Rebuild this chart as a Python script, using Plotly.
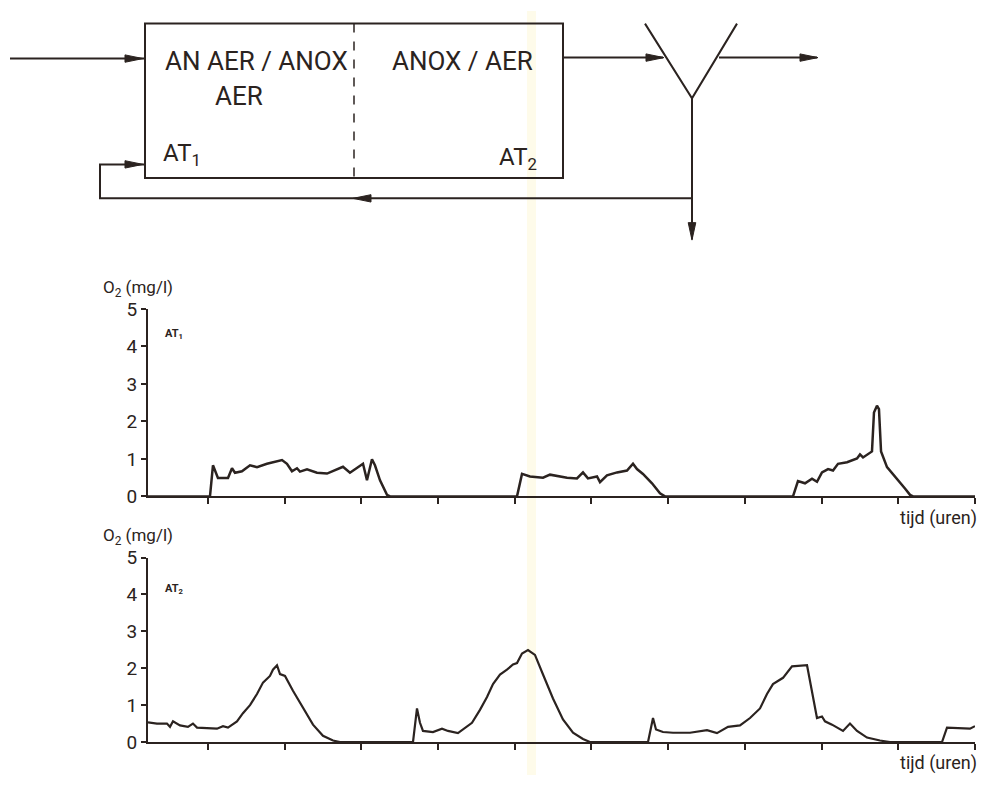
import plotly.graph_objects as go

# ---------------- data (time in tick units, O2 in mg/l) ----------------
tijd_at1 = [0.218, 1.026, 1.065, 1.130, 1.261, 1.313, 1.352, 1.443, 1.548, 1.639, 1.769, 1.900,
            1.965, 2.030, 2.095, 2.160, 2.199, 2.291, 2.421, 2.552, 2.682, 2.760, 2.851, 2.982,
            3.021, 3.073, 3.138, 3.177, 3.243, 3.334, 3.373,
            5.029, 5.094, 5.198, 5.368, 5.459, 5.681, 5.811, 5.889, 5.954, 6.072, 6.111, 6.202,
            6.333, 6.463, 6.541, 6.593, 6.671, 6.789, 6.893, 6.958,
            8.627, 8.692, 8.784, 8.875, 8.940, 9.005, 9.084, 9.149, 9.214, 9.332, 9.462, 9.501,
            9.540, 9.631, 9.657, 9.683, 9.722, 9.748, 9.775, 9.853, 9.983, 10.087, 10.153,
            10.192, 11.0]
o2_at1 = [0, 0, 0.83, 0.49, 0.49, 0.75, 0.63, 0.67, 0.83, 0.78, 0.87, 0.94,
          0.97, 0.87, 0.67, 0.75, 0.66, 0.72, 0.63, 0.61, 0.72, 0.79, 0.63, 0.83,
          0.87, 0.43, 0.99, 0.83, 0.43, 0.04, 0,
          0, 0.60, 0.53, 0.50, 0.58, 0.50, 0.48, 0.64, 0.48, 0.53, 0.38, 0.56,
          0.64, 0.69, 0.87, 0.73, 0.60, 0.35, 0.08, 0,
          0, 0.41, 0.35, 0.47, 0.39, 0.64, 0.73, 0.69, 0.87, 0.91, 1.01, 1.12,
          1.04, 1.16, 1.20, 2.24, 2.42, 2.33, 1.20, 0.78, 0.48, 0.21, 0.04,
          0, 0]

tijd_at2 = [0.218, 0.335, 0.465, 0.505, 0.544, 0.635, 0.739, 0.804, 0.857, 0.987, 1.117, 1.196,
            1.261, 1.378, 1.456, 1.548, 1.639, 1.717, 1.808, 1.847, 1.900, 1.939, 2.004, 2.108,
            2.239, 2.369, 2.499, 2.630, 2.721,
            3.673, 3.725, 3.764, 3.803, 3.933, 4.051, 4.129, 4.259, 4.351, 4.442, 4.546, 4.638,
            4.716, 4.807, 4.898, 4.977, 5.029, 5.094, 5.172, 5.263, 5.368, 5.498, 5.628, 5.759,
            5.889, 5.980,
            6.737, 6.802, 6.841, 6.932, 7.063, 7.284, 7.506, 7.636, 7.780, 7.936, 8.067, 8.197,
            8.288, 8.366, 8.497, 8.614, 8.810, 8.940, 9.005, 9.044, 9.136, 9.279, 9.370, 9.462,
            9.592, 9.761, 9.892,
            10.570, 10.635, 10.765, 10.935, 11.0]
o2_at2 = [0.53, 0.50, 0.50, 0.41, 0.56, 0.45, 0.41, 0.50, 0.39, 0.37, 0.36, 0.43,
          0.39, 0.56, 0.78, 1.00, 1.30, 1.61, 1.79, 1.96, 2.08, 1.84, 1.79, 1.39,
          0.91, 0.47, 0.17, 0.04, 0,
          0, 0.91, 0.52, 0.30, 0.27, 0.36, 0.30, 0.24, 0.39, 0.52, 0.87, 1.22,
          1.57, 1.83, 1.96, 2.10, 2.14, 2.40, 2.49, 2.36, 1.83, 1.18, 0.61, 0.25,
          0.08, 0,
          0, 0.65, 0.34, 0.27, 0.25, 0.25, 0.32, 0.24, 0.41, 0.45, 0.65, 0.91,
          1.30, 1.57, 1.74, 2.05, 2.08, 0.65, 0.69, 0.56, 0.47, 0.30, 0.50, 0.30,
          0.12, 0.04, 0,
          0, 0.39, 0.37, 0.36, 0.43]

x_ticks = [1, 2, 3, 4, 5, 6, 7, 8, 9, 10, 11]
y_ticks = [0, 1, 2, 3, 4, 5]
y_labels = ["0", "1", "2", "3", "4", "5"]
x_range = [0.218, 11.0]

INK = "#2b2320"
FONT = "Roboto"
W, H = 982, 787


def px(x):
    return x / W


def py(y):
    return 1 - y / H


fig = go.Figure()
fig.add_trace(go.Scatter(x=tijd_at1, y=o2_at1, mode="lines", xaxis="x", yaxis="y",
                         line=dict(color=INK, width=2.5), hoverinfo="skip", showlegend=False))
fig.add_trace(go.Scatter(x=tijd_at2, y=o2_at2, mode="lines", xaxis="x2", yaxis="y2",
                         line=dict(color=INK, width=2.2), hoverinfo="skip", showlegend=False))

xax = dict(range=x_range, showline=True, linecolor=INK, linewidth=2, ticks="outside",
           tickvals=x_ticks, ticklen=6, tickwidth=1.5, tickcolor=INK, showticklabels=False,
           showgrid=False, zeroline=False, fixedrange=True)
yax = dict(range=[0, 5], showline=True, linecolor=INK, linewidth=2, ticks="outside",
           tickvals=y_ticks, ticktext=y_labels, ticklen=5, tickwidth=1.5, tickcolor=INK,
           tickfont=dict(family=FONT, size=19, color=INK), showgrid=False, zeroline=False,
           fixedrange=True)

dom_x = [px(148), px(975)]
fig.update_layout(
    width=W, height=H, margin=dict(l=0, r=0, t=0, b=0),
    paper_bgcolor="white", plot_bgcolor="rgba(0,0,0,0)",
    xaxis=dict(xax, domain=dom_x, anchor="y"),
    yaxis=dict(yax, domain=[py(500), py(307)], anchor="x"),
    xaxis2=dict(xax, domain=dom_x, anchor="y2"),
    yaxis2=dict(yax, domain=[py(753), py(563)], anchor="x2"),
)

shapes = []
# faint yellow scan band
shapes.append(dict(type="rect", xref="paper", yref="paper", x0=px(527), x1=px(536), y0=0, y1=1,
                   fillcolor="#fefbea", line=dict(width=0), layer="below"))


def line(path, dash="solid", w=2):
    shapes.append(dict(type="path", xref="paper", yref="paper", path=path,
                       line=dict(color=INK, width=w, dash=dash), layer="above"))


def pth(points, close=False):
    s = "M " + " L ".join(f"{px(x):.5f},{py(y):.5f}" for x, y in points)
    return s + (" Z" if close else "")


def arrow_head(tip_x, tip_y, direction, length=18, half=3.8):
    if direction == "right":
        pts = [(tip_x, tip_y), (tip_x - length, tip_y - half), (tip_x - length, tip_y + half)]
    elif direction == "left":
        pts = [(tip_x, tip_y), (tip_x + length, tip_y - half), (tip_x + length, tip_y + half)]
    else:  # down
        pts = [(tip_x, tip_y), (tip_x - half, tip_y - length), (tip_x + half, tip_y - length)]
    shapes.append(dict(type="path", xref="paper", yref="paper", path=pth(pts, True),
                       fillcolor=INK, line=dict(color=INK, width=1), layer="above"))


# box
line(pth([(145, 13), (563, 13), (563, 172), (145, 172)], close=True))
line(pth([(354, 13), (354, 172)]), dash="dash", w=1.5)
# inflow
line(pth([(10, 49), (145, 49)]))
arrow_head(143, 49, "right")
# recycle
line(pth([(692, 193), (100, 193), (100, 158), (145, 158)]))
arrow_head(143, 158, "right")
arrow_head(353, 193, "left")
# to clarifier
line(pth([(563, 48), (663, 48)]))
arrow_head(664, 48, "right")
# clarifier Y
line(pth([(645, 13), (692, 90), (737, 13)]))
line(pth([(719, 48), (817, 48)]))
arrow_head(818, 48, "right")
line(pth([(692, 90), (692, 235)]))
arrow_head(692, 236, "down")

fig.update_layout(shapes=shapes)

ann = []


def text(x, y, s, size, anchor="left"):
    ann.append(dict(x=px(x), y=py(y), xref="paper", yref="paper", text=s, showarrow=False,
                    xanchor=anchor, yanchor="middle", font=dict(family=FONT, size=size, color=INK)))


text(163, 52, "AN AER / ANOX", 26)
text(213, 88, "AER", 26)
text(161, 148, "AT<sub>1</sub>", 24)
text(390, 52, "ANOX / AER", 26)
text(497, 152, "AT<sub>2</sub>", 24)

text(101, 286, "O<sub>2</sub> (mg/l)", 17)
text(101, 541, "O<sub>2</sub> (mg/l)", 17)
text(979, 522, "tijd (uren)", 18, anchor="right")
text(979, 775, "tijd (uren)", 18, anchor="right")
text(163, 333, "<b>AT<sub>1</sub></b>", 11)
text(163, 595, "<b>AT<sub>2</sub></b>", 11)

fig.update_layout(annotations=ann)

fig.write_html("out.html")
